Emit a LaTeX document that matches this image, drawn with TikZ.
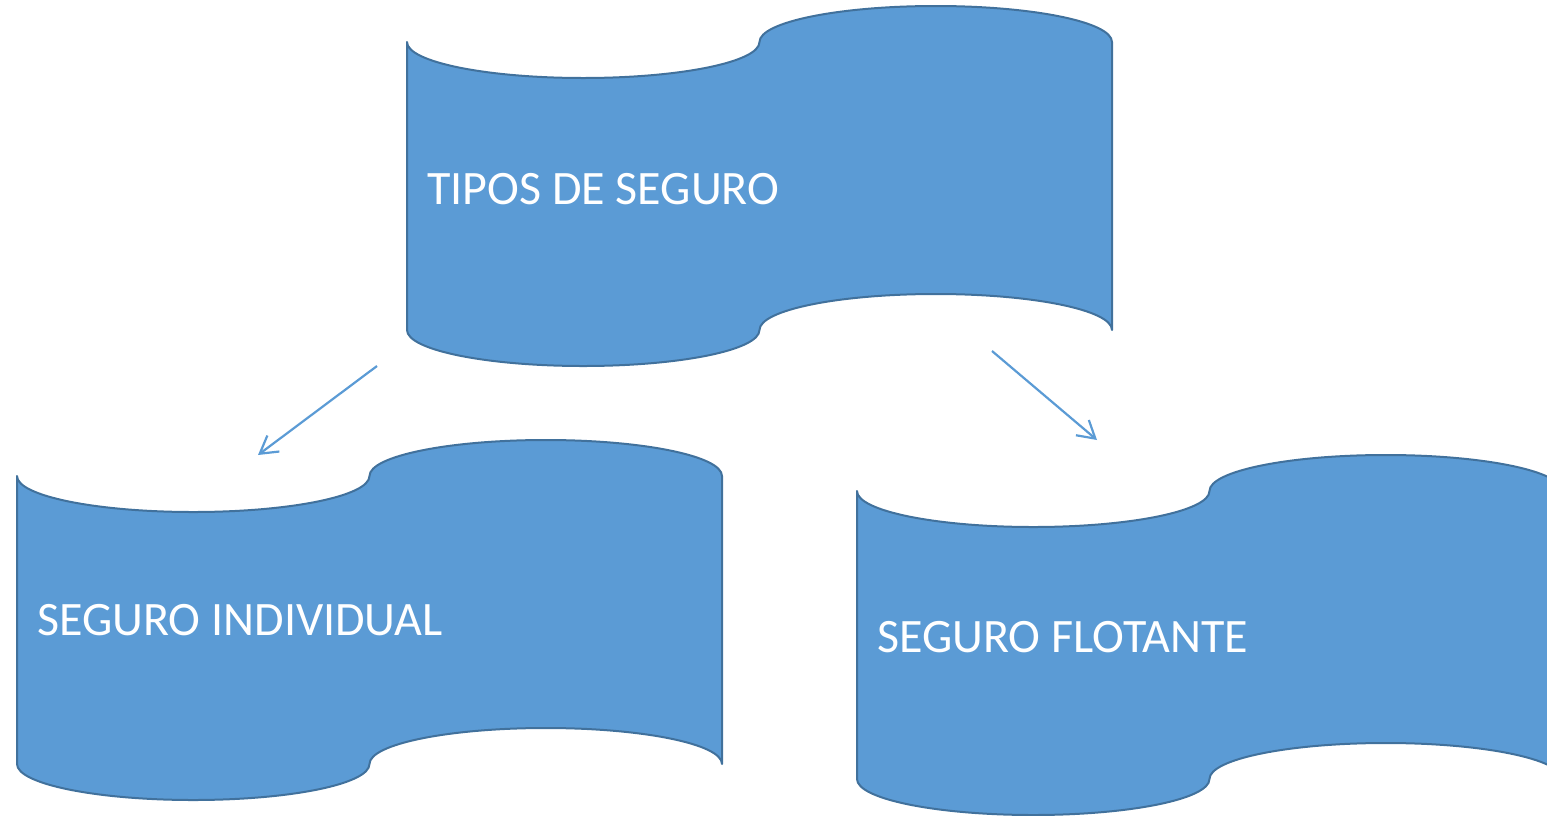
\documentclass[tikz,border=0pt]{standalone}
\usepackage{fontspec}
\setmainfont{Carlito}
\usetikzlibrary{arrows.meta}
\definecolor{tapeblue}{HTML}{5B9BD5}
\definecolor{tapeedge}{HTML}{41719C}

% punched tape: left x, top y (pixels, y down), w=705, h=360
\newcommand{\tape}[2]{
        \draw[tape] (#1,{-#2-36})
                arc[start angle=180, end angle=360, x radius=176.25, y radius=36]
                arc[start angle=180, end angle=0, x radius=176.25, y radius=36]
                -- ({#1+705},{-#2-324})
                arc[start angle=0, end angle=180, x radius=176.25, y radius=36]
                arc[start angle=0, end angle=-180, x radius=176.25, y radius=36]
                -- cycle;
}

\begin{document}
\begin{tikzpicture}[x=1pt,y=1pt,
        tape/.style={fill=tapeblue, draw=tapeedge, line width=2pt, line join=round},
        tapetext/.style={anchor=base west, inner sep=0pt, text=white, font=\fontsize{48}{58}\selectfont},
        link/.style={draw=tapeblue, line width=2.2pt, -{Straight Barb[length=17pt,width=20pt,line width=2.2pt]}}]
        \useasboundingbox (0,0) rectangle (1547,-815);

        \tape{407}{6}
        \tape{17}{440}
        \tape{857}{455}

        \node at (427,-204) [tapetext] (tipos) {TIPOS DE SEGURO};
        \node at (37,-635) [tapetext] (individual) {SEGURO INDIVIDUAL};
        \node at (877,-652) [tapetext] (flotante) {SEGURO FLOTANTE};

        \coordinate (tipos_sw) at (377,-366);
        \coordinate (individual_in) at (258,-455);
        \coordinate (tipos_se) at (992,-351);
        \coordinate (flotante_in) at (1097,-440);

        \draw   (tipos_sw)    edge[link]     (individual_in)
                (tipos_se)    edge[link]     (flotante_in)
            ;

\end{tikzpicture}
\end{document}
